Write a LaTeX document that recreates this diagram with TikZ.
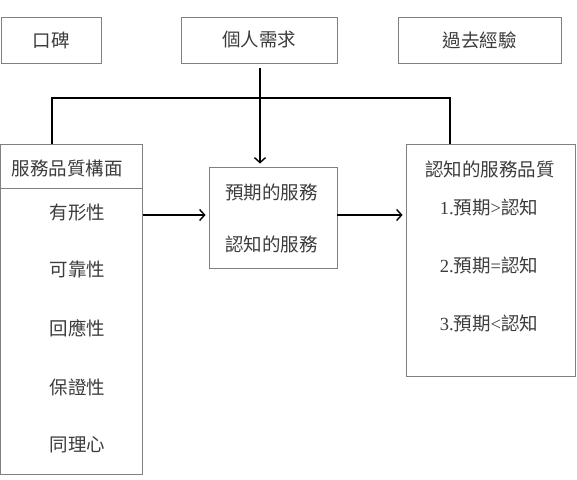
\documentclass[tikz,border=0pt]{standalone}
\usepackage{fontspec}
\setmainfont{Liberation Serif}
\newfontfamily\cjk{Noto Sans CJK TC}
\usetikzlibrary{arrows.meta}
\definecolor{framegray}{HTML}{808080}
\definecolor{textgray}{HTML}{3C3C3C}

\begin{document}
\begin{tikzpicture}[x=1pt, y=-1pt,
    frame/.style={draw=framegray, line width=0.9pt, rectangle, inner sep=0pt},
    label/.style={text=textgray, inner sep=0pt, font=\fontsize{18.5}{22}\selectfont\cjk},
    conn/.style={line width=1.5pt, draw=black},
    arr/.style={conn, -{Straight Barb[length=5pt, width=11pt, line width=1.4pt]}, shorten >=3pt}]
  \useasboundingbox (0,0) rectangle (577,479);
  % top row
  \node[frame, minimum width=100pt, minimum height=46pt] (kou) at (51,40) {};
  \node[label] (koutxt) at (kou) {口碑};
  \node[frame, minimum width=156pt, minimum height=46pt] (need) at (259,40) {};
  \node[label] (needtxt) at (need) {個人需求};
  \node[frame, minimum width=163pt, minimum height=46pt] (past) at (479.5,40) {};
  \node[label] (pasttxt) at (past) {過去經驗};

  % dimensions of service quality
  \node[frame, minimum width=142pt, minimum height=330pt] (dims) at (71.5,309) {};
  \draw[draw=framegray, line width=0.9pt] (dims.west |- 0,188) -- (dims.east |- 0,188);
  \node[label] (dimstitle) at (67,169) {服務品質構面};
  \foreach \name/\txt/\y in {tang/有形性/213, reli/可靠性/270, resp/回應性/328, assu/保證性/387, empa/同理心/445} {
    \node[label] (\name) at (77.5,\y) {\txt};
  }

  % expected / perceived service
  \node[frame, minimum width=128pt, minimum height=101pt] (mid) at (273,217.5) {};
  \node[label] (exp) at (271.5,192) {預期的服務};
  \node[label] (perc) at (271.5,244) {認知的服務};

  % perceived service quality
  \node[frame, minimum width=169pt, minimum height=232pt] (qual) at (490.5,260) {};
  \node[label] (qualtitle) at (490,169) {認知的服務品質};
  \node[label, font=\fontsize{18.5}{22}\selectfont] (gt) at (489,207) {1.{\cjk 預期}>{\cjk 認知}};
  \node[label, font=\fontsize{18.5}{22}\selectfont] (eq) at (489,265) {2.{\cjk 預期}={\cjk 認知}};
  \node[label, font=\fontsize{18.5}{22}\selectfont] (lt) at (489,323) {3.{\cjk 預期}<{\cjk 認知}};

  % connectors
  \coordinate (barL) at (52,98);
  \coordinate (barR) at (450,98);
  \draw[conn] (dims.north -| barL) -- (barL) -- (barR) -- (qual.north -| barR);
  \draw[arr, shorten <=5pt] (need.south -| 260,0) -- (mid.north -| 260,0);
  \draw[arr] (dims.east |- 0,215) -- (mid.west |- 0,215);
  \draw[arr] (mid.east |- 0,215) -- (qual.west |- 0,215);
\end{tikzpicture}
\end{document}
